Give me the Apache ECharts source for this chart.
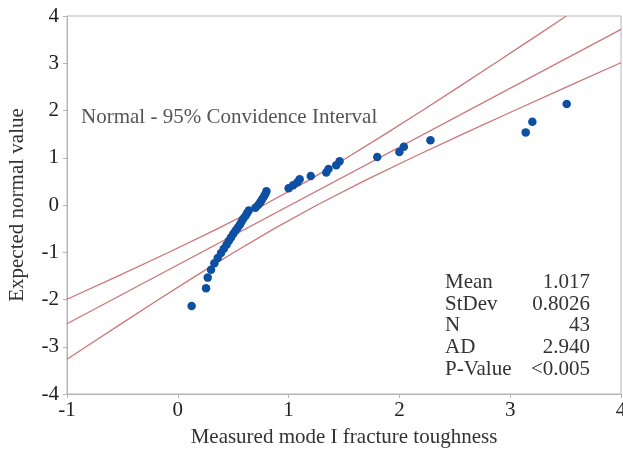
<!DOCTYPE html>
<html>
<head>
<meta charset="utf-8">
<script src="https://cdn.jsdelivr.net/npm/echarts@6/dist/echarts.min.js"></script>
<style>
  html, body { margin: 0; padding: 0; background: #fff; }
  #grid { width: 623px; height: 452px; }
</style>
</head>
<body>
<div id="grid"></div>
<script>
// measured toughness (x) and expected normal value (y), 43 samples
const measured = [
  0.125, 0.255, 0.27, 0.30, 0.33, 0.36, 0.39, 0.415, 0.44, 0.46, 0.48,
  0.50, 0.52, 0.54, 0.56, 0.575, 0.59, 0.61, 0.625, 0.64, 0.70, 0.725,
  0.745, 0.76, 0.775, 0.79, 0.80, 1.00, 1.04, 1.08, 1.10, 1.20, 1.34,
  1.36, 1.43, 1.46, 1.80, 2.00, 2.04, 2.28, 3.14, 3.20, 3.51
];
const expected = [
  -2.14, -1.76, -1.537, -1.371, -1.235, -1.12, -1.018, -0.925, -0.84, -0.76, -0.686,
  -0.614, -0.546, -0.48, -0.416, -0.353, -0.293, -0.233, -0.174, -0.116, -0.058, 0,
  0.058, 0.116, 0.174, 0.233, 0.293, 0.353, 0.416, 0.48, 0.546, 0.614, 0.686,
  0.76, 0.84, 0.925, 1.018, 1.12, 1.235, 1.371, 1.537, 1.76, 2.14
];

// fitted line and 95% confidence bands
const fitLine = [[-1, -2.513], [4, 3.717]];
const upperBand = [
  [-1.004, -2], [-0.537, -1.5], [-0.08, -1], [0.361, -0.5], [0.777, 0],
  [1.164, 0.5], [1.526, 1], [1.871, 1.5], [2.207, 2], [2.537, 2.5],
  [2.862, 3], [3.186, 3.5], [3.507, 4]
];
const lowerBand = [
  [-1, -3.264], [-0.828, -3], [-0.502, -2.5], [-0.173, -2], [0.163, -1.5],
  [0.508, -1], [0.87, -0.5], [1.257, 0], [1.673, 0.5], [2.114, 1],
  [2.571, 1.5], [3.038, 2], [3.511, 2.5], [3.988, 3], [4, 3.01]
];

const statNames = ['Mean', 'StDev', 'N', 'AD', 'P-Value'];
const statValues = ['1.017', '0.8026', '43', '2.940', '<0.005'];

const font = '"Liberation Serif", "Times New Roman", serif';
const myChart = echarts.init(document.getElementById('grid'));

const points = measured.map((x, i) => [x, expected[i]]);
const bandStyle = { color: '#cd7676', width: 1.3 };

const graphics = [
  {
    type: 'text',
    left: 81,
    top: 107,
    style: { text: 'Normal - 95% Convidence Interval', font: '21px ' + font, fill: '#555' },
  },
];
statNames.forEach((name, i) => {
  graphics.push({
    type: 'text',
    left: 445,
    top: 272 + i * 21.7,
    style: { text: name, font: '21px ' + font, fill: '#333' },
  });
  graphics.push({
    type: 'text',
    right: 33,
    top: 272 + i * 21.7,
    style: { text: statValues[i], font: '21px ' + font, fill: '#333', align: 'right' },
  });
});

const option = {
  animation: false,
  grid: {
    left: 67,
    right: 2,
    top: 16,
    bottom: 58,
    outerBoundsMode: 'none',
    show: true,
    borderColor: '#b5b5b5',
    borderWidth: 1,
  },
  xAxis: {
    type: 'value',
    min: -1,
    max: 4,
    interval: 1,
    name: 'Measured mode I fracture toughness',
    nameLocation: 'middle',
    nameGap: 33,
    nameTextStyle: { fontFamily: font, fontSize: 21, color: '#333' },
    axisLine: { onZero: false, lineStyle: { color: '#b5b5b5' } },
    axisTick: { length: 4, lineStyle: { color: '#b5b5b5' } },
    axisLabel: { fontFamily: font, fontSize: 21, color: '#222', margin: 6 },
    splitLine: { show: false },
  },
  yAxis: {
    type: 'value',
    min: -4,
    max: 4,
    interval: 1,
    name: 'Expected normal value',
    nameLocation: 'middle',
    nameGap: 39,
    nameTextStyle: { fontFamily: font, fontSize: 21, color: '#333' },
    axisLine: { onZero: false, lineStyle: { color: '#b5b5b5' } },
    axisTick: { length: 4, lineStyle: { color: '#b5b5b5' } },
    axisLabel: { fontFamily: font, fontSize: 21, color: '#222', margin: 8 },
    splitLine: { show: false },
  },
  graphic: graphics,
  series: [
    { type: 'line', data: upperBand, showSymbol: false, lineStyle: bandStyle, clip: true, z: 1 },
    { type: 'line', data: fitLine, showSymbol: false, lineStyle: bandStyle, clip: true, z: 1 },
    { type: 'line', data: lowerBand, showSymbol: false, lineStyle: bandStyle, clip: true, z: 1 },
    {
      type: 'scatter',
      data: points,
      symbolSize: 8.5,
      itemStyle: { color: '#0d4fa3', opacity: 1 },
      z: 3,
    },
  ],
};

myChart.setOption(option);
</script>
</body>
</html>
